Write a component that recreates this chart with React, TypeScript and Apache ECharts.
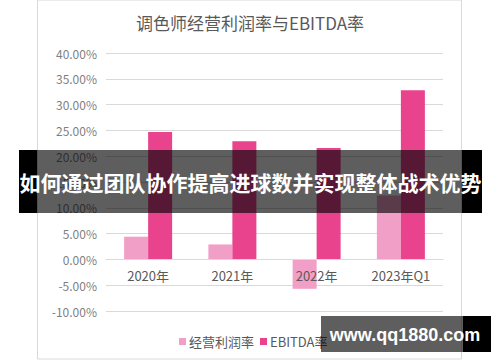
import React, { useEffect, useRef } from "react";
import * as echarts from "echarts";

const categories = ["2020年", "2021年", "2022年", "2023年Q1"];
const operatingMargin = [4.4, 2.9, -5.7, 12.4];
const ebitdaMargin = [24.7, 22.9, 21.6, 32.8];
const seriesNames = ["经营利润率", "EBITDA率"];
const titleText = "调色师经营利润率与EBITDA率";
const bannerText = "如何通过团队协作提高进球数并实现整体战术优势";
const watermarkText = "www.qq1880.com";

const FONT = '"Noto Sans CJK SC", "Noto Sans", sans-serif';

export default function App() {
  const ref = useRef<HTMLDivElement>(null);
  useEffect(() => {
    if (!ref.current) return;
    const chart = echarts.init(ref.current, undefined, { renderer: "svg", width: 500, height: 362 });
    chart.setOption({
      animation: false,
      backgroundColor: "#ffffff",
      textStyle: { fontFamily: FONT },
      title: {
        text: titleText,
        left: "center",
        top: 9,
        textStyle: { fontFamily: FONT, fontSize: 17, fontWeight: "normal", color: "#595959" },
      },
      grid: { left: 106, right: 57, top: 53, bottom: 51, containLabel: false },
      legend: {
        data: seriesNames,
        left: 174,
        top: 330,
        itemWidth: 7,
        itemHeight: 7,
        itemGap: 6,
        icon: "rect",
        textStyle: { fontFamily: FONT, fontSize: 13, color: "#595959", padding: [0, 0, 0, -2] },
      },
      xAxis: {
        type: "category",
        data: categories,
        position: "bottom",
        offset: -52,
        z: 10,
        axisLine: { show: true, onZero: false, lineStyle: { color: "#d9d9d9", width: 1 } },
        axisTick: { show: false },
        axisLabel: { color: "#595959", fontSize: 13, margin: 10, fontFamily: FONT },
      },
      yAxis: {
        type: "value",
        min: -10,
        max: 40,
        interval: 5,
        axisLine: { show: false },
        axisTick: { show: false },
        splitLine: { lineStyle: { color: "#d9d9d9", width: 1 } },
        axisLabel: {
          color: "#7f7f7f",
          fontSize: 12,
          margin: 9,
          fontFamily: FONT,
          formatter: (v: number) => v.toFixed(2) + "%",
        },
      },
      series: [
        {
          name: seriesNames[0],
          type: "bar",
          data: operatingMargin,
          barWidth: 24,
          barGap: "0%",
          z: 1,
          itemStyle: { color: "#f29fc7" },
        },
        {
          name: seriesNames[1],
          type: "bar",
          data: ebitdaMargin,
          barWidth: 24,
          barGap: "0%",
          z: 1,
          itemStyle: { color: "#e9438e" },
        },
      ],
      graphic: [
        {
          type: "rect",
          z: 50,
          silent: true,
          shape: { x: 37.5, y: 0, width: 424, height: 359 },
          style: { fill: "none", stroke: "#d9d9d9", lineWidth: 1 },
        },
        {
          type: "rect",
          z: 100,
          silent: true,
          shape: { x: 19, y: 150, width: 18, height: 63 },
          style: { fill: "#000000" },
        },
        {
          type: "rect",
          z: 100,
          silent: true,
          shape: { x: 37, y: 150, width: 425, height: 63 },
          style: { fill: "rgba(0,0,0,0.63)" },
        },
        {
          type: "rect",
          z: 100,
          silent: true,
          shape: { x: 462, y: 150, width: 20, height: 63 },
          style: { fill: "#000000" },
        },
        {
          type: "text",
          z: 101,
          silent: true,
          x: 250.5,
          y: 181.5,
          style: {
            text: bannerText,
            fill: "#ffffff",
            font: 'bold 21px "Noto Sans CJK SC", sans-serif',
            align: "center",
            verticalAlign: "middle",
          },
        },
        {
          type: "rect",
          z: 100,
          silent: true,
          shape: { x: 321, y: 316, width: 142, height: 36 },
          style: { fill: "rgba(0,0,0,0.63)" },
        },
        {
          type: "rect",
          z: 100,
          silent: true,
          shape: { x: 463, y: 316, width: 28, height: 36 },
          style: { fill: "#000000" },
        },
        {
          type: "text",
          z: 101,
          silent: true,
          x: 405,
          y: 334.5,
          style: {
            text: watermarkText,
            fill: "#ffffff",
            font: 'bold 18px "Liberation Sans", Arial, sans-serif',
            align: "center",
            verticalAlign: "middle",
          },
        },
      ],
    });
    return () => chart.dispose();
  }, []);
  return (
    <div
      ref={ref}
      style={{ position: "fixed", left: 0, top: 0, width: 500, height: 362, background: "#fff" }}
    />
  );
}
